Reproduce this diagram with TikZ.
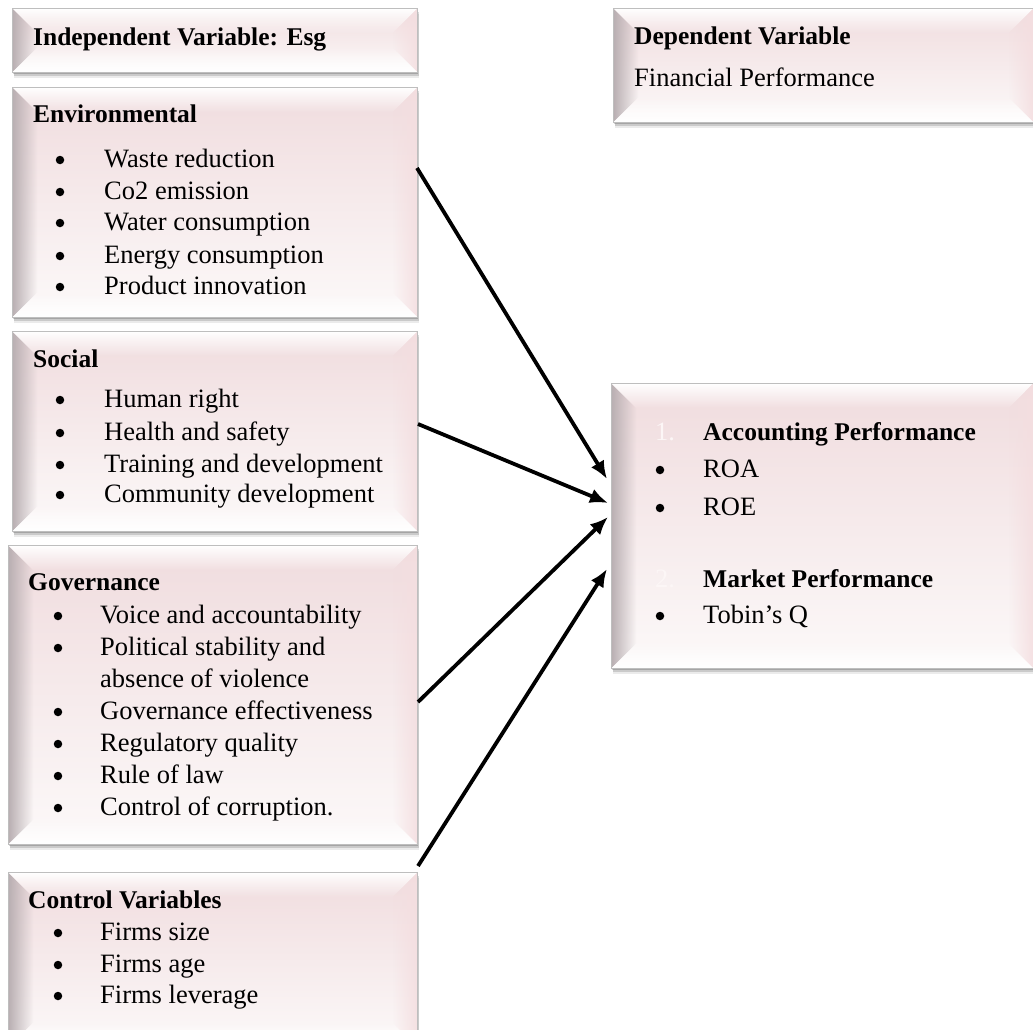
\documentclass[tikz,border=0pt]{standalone}
\usepackage{fontspec}
\setmainfont{Liberation Serif}
\usetikzlibrary{arrows.meta,shadows,calc,fadings}
\definecolor{pinkA}{RGB}{240,220,222}
\definecolor{pinkB}{RGB}{252,249,249}
\definecolor{edgeL}{RGB}{185,175,178}
\definecolor{pinkR}{RGB}{244,222,224}
\definecolor{boxborder}{RGB}{190,190,190}
\definecolor{numcol}{RGB}{252,246,246}
\newcommand\bevelpic{%
 \path (path picture bounding box.north west) coordinate (pA)
       (path picture bounding box.north east) coordinate (pB)
       (path picture bounding box.south east) coordinate (pC)
       (path picture bounding box.south west) coordinate (pD);
 \path ($(pA)+(25pt,-25pt)$) coordinate (qA)
       ($(pB)+(-25pt,-25pt)$) coordinate (qB)
       ($(pC)+(-25pt,25pt)$) coordinate (qC)
       ($(pD)+(25pt,25pt)$) coordinate (qD);
 \fill[top color=pinkA, bottom color=pinkB] (pA) rectangle (pC);
 \fill[pinkR, path fading=west, opacity=0.9] (pB)--(qB)--(qC)--(pC)--cycle;
 \fill[edgeL, path fading=east] (pA)--(qA)--(qD)--(pD)--cycle;
 \fill[white, path fading=south] (pA)--(pB)--(qB)--(qA)--cycle;
 \fill[white, path fading=north] (pD)--(qD)--(qC)--(pC)--cycle;
}
\tikzset{
  bevbox/.style={draw=boxborder, line width=0.7pt, rectangle, inner sep=0pt,
    anchor=north west, path picture={\bevelpic},
    drop shadow={shadow xshift=1pt, shadow yshift=-2pt, fill=black, opacity=0.18},
    drop shadow={shadow xshift=1.5pt, shadow yshift=-4pt, fill=black, opacity=0.14},
    drop shadow={shadow xshift=2pt, shadow yshift=-6pt, fill=black, opacity=0.08}},
  txt/.style={inner sep=0pt, anchor=base west, font=\fontsize{26.5}{30}\selectfont},
  ttl/.style={txt, font=\fontsize{25.5}{30}\selectfont\bfseries},
  bul/.style={circle, fill=black, inner sep=0pt, minimum size=8.5pt},
  arr/.style={line width=3.8pt, -{Latex[length=18pt,width=15pt]}},
}
\begin{document}
\begin{tikzpicture}[x=1pt,y=-1pt]
\useasboundingbox (0,0) rectangle (1033,1030);
% boxes
\node[bevbox, minimum width=405pt, minimum height=64pt] (ind) at (12,8) {};
\node[bevbox, minimum width=405pt, minimum height=230pt] (env) at (12,87) {};
\node[bevbox, minimum width=405pt, minimum height=200pt] (soc) at (12,331) {};
\node[bevbox, minimum width=409pt, minimum height=299pt] (gov) at (8,545) {};
\node[bevbox, minimum width=409pt, minimum height=175pt] (ctl) at (8,872) {};
\node[bevbox, minimum width=420pt, minimum height=114pt] (dep) at (613,8) {};
\node[bevbox, minimum width=422pt, minimum height=285pt] (fin) at (611,383) {};
% box 1
\node[ttl] (t1) at (33,46) {Independent Variable: Esg};
% dependent
\node[ttl] (t2) at (634,45) {Dependent Variable};
\node[txt] (t3) at (634,87) {Financial Performance};
% environmental
\node[ttl] (t4) at (33,123) {Environmental};
\node[bul] (b1) at (60,160) {}; \node[txt] (e1t) at (104,167) {Waste reduction};
\node[bul] (b2) at (60,192) {}; \node[txt] (e2t) at (104,199) {Co2 emission};
\node[bul] (b3) at (60,223) {}; \node[txt] (e3t) at (104,230) {Water consumption};
\node[bul] (b4) at (60,256) {}; \node[txt] (e4t) at (104,263) {Energy consumption};
\node[bul] (b5) at (60,287) {}; \node[txt] (e5t) at (104,294) {Product innovation};
% social
\node[ttl] (t5) at (33,367) {Social};
\node[bul] (b6) at (60,400) {}; \node[txt] (s1t) at (104,407) {Human right};
\node[bul] (b7) at (60,433) {}; \node[txt] (s2t) at (104,440) {Health and safety};
\node[bul] (b8) at (60,465) {}; \node[txt] (s3t) at (104,472) {Training and development};
\node[bul] (b9) at (60,495) {}; \node[txt] (s4t) at (104,502) {Community development};
% governance
\node[ttl] (t6) at (28,590) {Governance};
\node[bul] (b10) at (58,616) {}; \node[txt] (g1t) at (100,623) {Voice and accountability};
\node[bul] (b11) at (58,648) {}; \node[txt] (g2t) at (100,655) {Political stability and};
\node[txt] (g2b) at (100,687) {absence of violence};
\node[bul] (b12) at (58,712) {}; \node[txt] (g3t) at (100,719) {Governance effectiveness};
\node[bul] (b13) at (58,744) {}; \node[txt] (g4t) at (100,751) {Regulatory quality};
\node[bul] (b14) at (58,776) {}; \node[txt] (g5t) at (100,783) {Rule of law};
\node[bul] (b15) at (58,808) {}; \node[txt] (g6t) at (100,815) {Control of corruption.};
% control
\node[ttl] (t7) at (28,908) {Control Variables};
\node[bul] (b16) at (58,933) {}; \node[txt] (c1t) at (100,940) {Firms size};
\node[bul] (b17) at (58,965) {}; \node[txt] (c2t) at (100,972) {Firms age};
\node[bul] (b18) at (58,996) {}; \node[txt] (c3t) at (100,1003) {Firms leverage};
% financial performance
\node[txt, text=numcol] (n1) at (655,440) {1.};
\node[ttl] (f1) at (703,440) {Accounting Performance};
\node[bul] (b19) at (660,470) {}; \node[txt] (f2) at (703,477) {ROA};
\node[bul] (b20) at (660,508) {}; \node[txt] (f3) at (703,515) {ROE};
\node[txt, text=numcol] (n2) at (655,587) {2.};
\node[ttl] (f4) at (703,587) {Market Performance};
\node[bul] (b21) at (660,616) {}; \node[txt] (f5) at (703,623) {Tobin’s Q};
% connectors
\coordinate (s1) at (417,168);
\coordinate (s2) at (418,424);
\coordinate (s3) at (418,702);
\coordinate (s4) at (418,866);
\coordinate (e1) at (607,479);
\coordinate (e2) at (608,503);
\coordinate (e3) at (608,517);
\coordinate (e4) at (607,569);
\draw[arr] (s1) -- (e1);
\draw[arr] (s2) -- (e2);
\draw[arr] (s3) -- (e3);
\draw[arr] (s4) -- (e4);
\end{tikzpicture}
\end{document}
